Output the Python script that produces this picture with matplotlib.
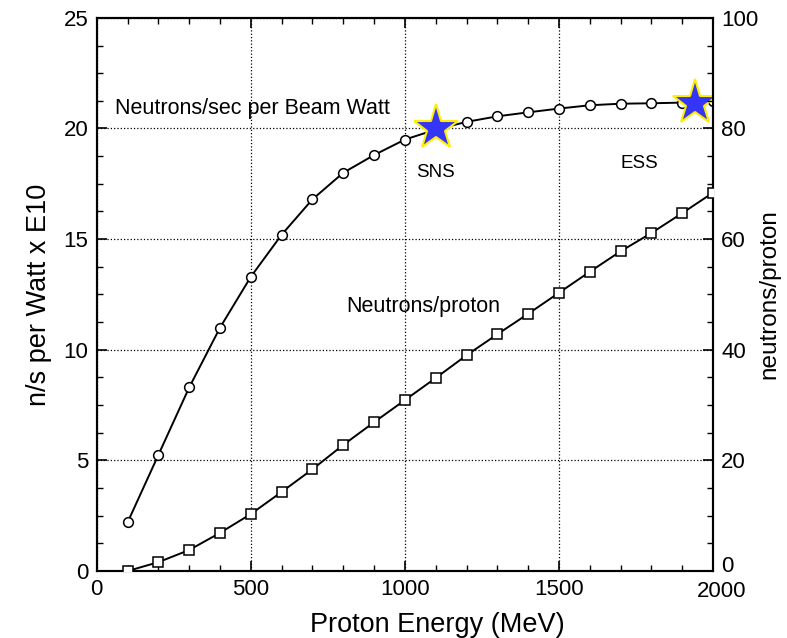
import matplotlib
matplotlib.use("Agg")
import matplotlib.pyplot as plt
from matplotlib.ticker import MultipleLocator
from matplotlib.transforms import ScaledTranslation

# proton energy (MeV)
energy = [100, 200, 300, 400, 500, 600, 700, 800, 900, 1000,
          1100, 1200, 1300, 1400, 1500, 1600, 1700, 1800, 1900, 2000]
# neutrons/sec per beam watt (x E10), left axis
n_per_watt = [2.2, 5.25, 8.3, 11.0, 13.3, 15.2, 16.8, 18.0, 18.8, 19.5,
              19.95, 20.3, 20.55, 20.73, 20.9, 21.05, 21.12, 21.14, 21.17, 21.25]
# neutrons/proton, right axis
n_per_proton = [0.0, 1.6, 3.8, 6.9, 10.3, 14.3, 18.4, 22.8, 26.9, 30.9,
                34.9, 39.0, 42.8, 46.5, 50.3, 54.1, 57.8, 61.1, 64.7, 68.4]

# facilities (energy, n/s per watt)
facility_names = ["SNS", "ESS"]
facility_energy = [1100, 1940]
facility_value = [20.0, 21.15]

plt.rcParams["font.family"] = ["Liberation Sans", "DejaVu Sans"]

fig = plt.figure(figsize=(7.87, 6.38), dpi=100)
ax = fig.add_axes([0.123, 0.105, 0.783, 0.867])
ax2 = ax.twinx()

ax.plot(energy, n_per_watt, "-", color="black", lw=1.4,
        marker="o", markersize=7, markerfacecolor="white",
        markeredgecolor="black", markeredgewidth=1.1, zorder=3)
ax2.plot(energy, n_per_proton, "-", color="black", lw=1.4,
         marker="s", markersize=6.5, markerfacecolor="white",
         markeredgecolor="black", markeredgewidth=1.1, zorder=3)

ax.plot(facility_energy, facility_value, linestyle="none", marker="*",
        markersize=34, markerfacecolor="#3535f5", markeredgecolor="#ffee00",
        markeredgewidth=1.5, zorder=6)

ax.set_xlim(0, 2000)
ax.set_ylim(0, 25)
ax2.set_ylim(0, 100)

ax.xaxis.set_major_locator(MultipleLocator(500))
ax.xaxis.set_minor_locator(MultipleLocator(100))
ax.yaxis.set_major_locator(MultipleLocator(5))
ax.yaxis.set_minor_locator(MultipleLocator(1.25))
ax2.yaxis.set_major_locator(MultipleLocator(20))
ax2.yaxis.set_minor_locator(MultipleLocator(5))

ax.tick_params(axis="x", which="both", direction="in", top=True)
ax.tick_params(axis="y", which="both", direction="in", right=False)
ax.tick_params(which="major", length=7, width=1.2, labelsize=16, pad=6)
ax.tick_params(which="minor", length=4, width=1.0)
ax2.tick_params(axis="y", which="both", direction="in")
ax2.tick_params(which="major", length=7, width=1.2, labelsize=16, pad=6)
ax2.tick_params(which="minor", length=4, width=1.0)

for a in (ax, ax2):
    for s in a.spines.values():
        s.set_linewidth(1.5)

ax.grid(True, which="major", linestyle=":", color="black", lw=0.9)
ax.set_axisbelow(True)

ax.set_xlabel("Proton Energy (MeV)", fontsize=19.5)
ax.xaxis.set_label_coords(0.552, -0.075)
ax.set_ylabel("n/s per Watt x E10", fontsize=19.5, labelpad=8)
ax2.set_ylabel("neutrons/proton", fontsize=17.5, labelpad=0)

ax.text(60, 20.9, "Neutrons/sec per Beam Watt", fontsize=15.5,
        ha="left", va="center")
ax2.text(810, 47.8, "Neutrons/proton", fontsize=15.5,
         ha="left", va="center")
ax.text(1100, 18.0, facility_names[0], fontsize=13.5, ha="center", va="center")
ax.text(1760, 18.4, facility_names[1], fontsize=13.5, ha="center", va="center")

# corner labels: lift the right "0" and nudge "2000" so they don't collide
fig.canvas.draw()
for tick in ax2.yaxis.get_major_ticks():
    if abs(tick.get_loc()) < 1e-9:
        tick.label2.set_transform(tick.label2.get_transform()
                                  + ScaledTranslation(0, 5 / 72, fig.dpi_scale_trans))
for tick in ax.xaxis.get_major_ticks():
    if abs(tick.get_loc() - 2000) < 1e-9:
        tick.label1.set_transform(tick.label1.get_transform()
                                  + ScaledTranslation(6 / 72, -1 / 72, fig.dpi_scale_trans))

fig.savefig("out.png", dpi=100)
